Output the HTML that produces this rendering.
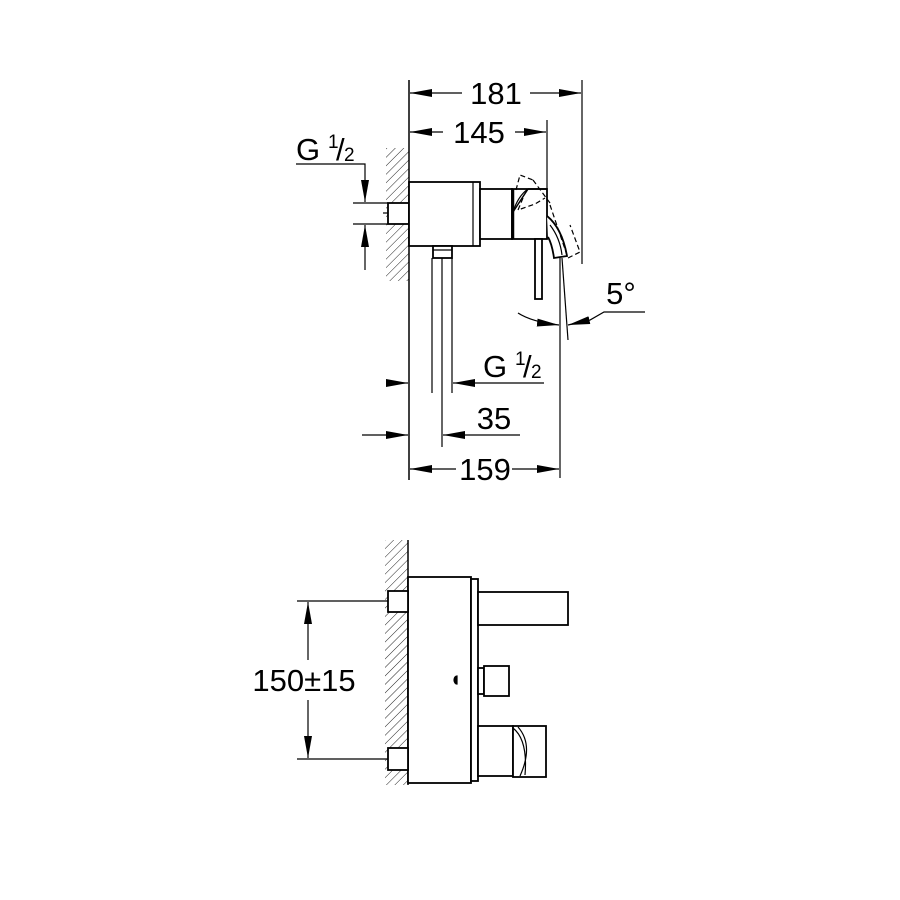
<!DOCTYPE html>
<html><head><style>html,body{margin:0;padding:0;background:#fff}svg{display:block}</style></head>
<body>
<svg width="900" height="900" viewBox="0 0 900 900" xmlns="http://www.w3.org/2000/svg" font-family="Liberation Sans, sans-serif">
<defs>
<pattern id="h" width="6" height="6" patternUnits="userSpaceOnUse" patternTransform="rotate(45)"><line x1="0" y1="0" x2="0" y2="6" stroke="#222" stroke-width="1"/></pattern>
<marker id="a" viewBox="0 0 22 8" refX="22" refY="4" markerWidth="22" markerHeight="8" markerUnits="userSpaceOnUse" orient="auto"><path d="M0,0L22,4L0,8z" fill="#000"/></marker>
</defs>
<g stroke="#000" fill="none" stroke-width="1.2">
<!-- TOP VIEW -->
<rect x="386" y="148" width="23" height="133" fill="url(#h)" stroke="none"/>
<line x1="409" y1="80" x2="409" y2="480" stroke-width="1.5"/>
<line x1="582" y1="80" x2="582" y2="264"/>
<line x1="462" y1="93" x2="410" y2="93" marker-end="url(#a)"/>
<line x1="530" y1="93" x2="581" y2="93" marker-end="url(#a)"/>
<line x1="547" y1="120" x2="547" y2="189"/>
<line x1="443" y1="132" x2="410" y2="132" marker-end="url(#a)"/>
<line x1="515" y1="132" x2="546" y2="132" marker-end="url(#a)"/>
<polyline points="296,164 365,164 365,202" marker-end="url(#a)"/>
<line x1="365" y1="270" x2="365" y2="225" marker-end="url(#a)"/>
<line x1="353" y1="203" x2="388" y2="203"/>
<line x1="353" y1="224" x2="388" y2="224"/>
<rect x="388" y="203" width="21" height="21" stroke-width="1.8" fill="#fff"/>
<line x1="383" y1="213" x2="388" y2="213"/>
<rect x="409" y="182" width="71" height="64" stroke-width="1.8" fill="#fff"/>
<line x1="473" y1="182" x2="473" y2="246"/>
<rect x="480" y="189" width="32" height="50" stroke-width="1.8" fill="#fff"/>
<rect x="512" y="189" width="35" height="50" stroke-width="1.8" fill="#fff"/>
<line x1="513" y1="189" x2="513" y2="239" stroke-width="2.5"/>
<path d="M513,212 Q518,196 528,189"/>
<path d="M513,212 L528,189 M528,189 L547,189" stroke-width="1.5"/>
<path d="M516,190 L520,175 L533,180" stroke-dasharray="5,3"/>
<path d="M533,180 L550,203 M523,198 L518,210 L535,204 L545,198" stroke-dasharray="5,3"/>
<path d="M547,216 Q562,228 567,256 L554,258 Q552,244 548,237" stroke-width="1.8" fill="#fff"/>
<path d="M550,225 Q560,238 562,255"/>
<path d="M550,205 L568,258 L580,252 L570,225" stroke-dasharray="5,3"/>
<rect x="535" y="239" width="7" height="60" stroke-width="1.8" fill="#fff"/>
<rect x="433" y="246" width="19" height="12" stroke-width="1.8" fill="#fff"/>
<line x1="433" y1="250" x2="452" y2="250"/>
<line x1="432" y1="258" x2="432" y2="393"/>
<line x1="452" y1="258" x2="452" y2="393"/>
<line x1="442" y1="258" x2="442" y2="447"/>
<line x1="560" y1="258" x2="560" y2="478"/>
<line x1="562" y1="258" x2="568" y2="340"/>
<path d="M518,313 Q532,322 559,325" marker-end="url(#a)"/>
<polyline points="645,312 604,312 590,320 568,325" marker-end="url(#a)" fill="none"/>
<line x1="386" y1="383" x2="408" y2="383" marker-end="url(#a)"/>
<line x1="544" y1="383" x2="453" y2="383" marker-end="url(#a)"/>
<line x1="362" y1="435" x2="408" y2="435" marker-end="url(#a)"/>
<line x1="520" y1="435" x2="443" y2="435" marker-end="url(#a)"/>
<line x1="456" y1="469" x2="410" y2="469" marker-end="url(#a)"/>
<line x1="512" y1="469" x2="559" y2="469" marker-end="url(#a)"/>

<!-- BOTTOM VIEW -->
<rect x="385" y="540" width="23" height="245" fill="url(#h)" stroke="none"/>
<line x1="408" y1="540" x2="408" y2="785" stroke-width="1.5"/>
<rect x="408" y="577" width="63" height="206" stroke-width="1.8" fill="#fff"/>
<rect x="471" y="579" width="7" height="202" stroke-width="1.8" fill="#fff"/>
<rect x="388" y="591" width="20" height="21" stroke-width="1.8" fill="#fff"/>
<rect x="388" y="748" width="20" height="22" stroke-width="1.8" fill="#fff"/>
<line x1="297" y1="601" x2="388" y2="601"/>
<line x1="297" y1="759" x2="388" y2="759"/>
<line x1="308" y1="660" x2="308" y2="602" marker-end="url(#a)"/>
<line x1="308" y1="700" x2="308" y2="758" marker-end="url(#a)"/>
<rect x="478" y="592" width="90" height="33" stroke-width="1.8" fill="#fff"/>
<rect x="478" y="668" width="6" height="26" stroke-width="1.8" fill="#fff"/>
<rect x="484" y="666" width="25" height="30" stroke-width="1.8" fill="#fff"/>
<path d="M457,676 a3,4 0 0 0 0,8 z" fill="#000"/>
<rect x="478" y="726" width="35" height="50" stroke-width="1.8" fill="#fff"/>
<rect x="513" y="726" width="33" height="51" stroke-width="1.8" fill="#fff"/>
<path d="M513,728 Q528,740 525,775 M518,727 Q534,745 520,776" />
</g>
<g font-size="31" fill="#000" text-anchor="middle">
<text x="496" y="104">181</text>
<text x="479" y="143">145</text>
<text x="485" y="480">159</text>
<text x="494" y="429">35</text>
<text x="621" y="304">5°</text>
<text x="304" y="691">150±15</text>
</g>
<g font-size="31" fill="#000">
<text x="296" y="160">G</text><text x="328" y="148" font-size="19">1</text><text x="336" y="160">/</text><text x="344" y="161" font-size="19">2</text>
<text x="483" y="377">G</text><text x="515" y="365" font-size="19">1</text><text x="523" y="377">/</text><text x="531" y="378" font-size="19">2</text>
</g>
</svg>
</body></html>
